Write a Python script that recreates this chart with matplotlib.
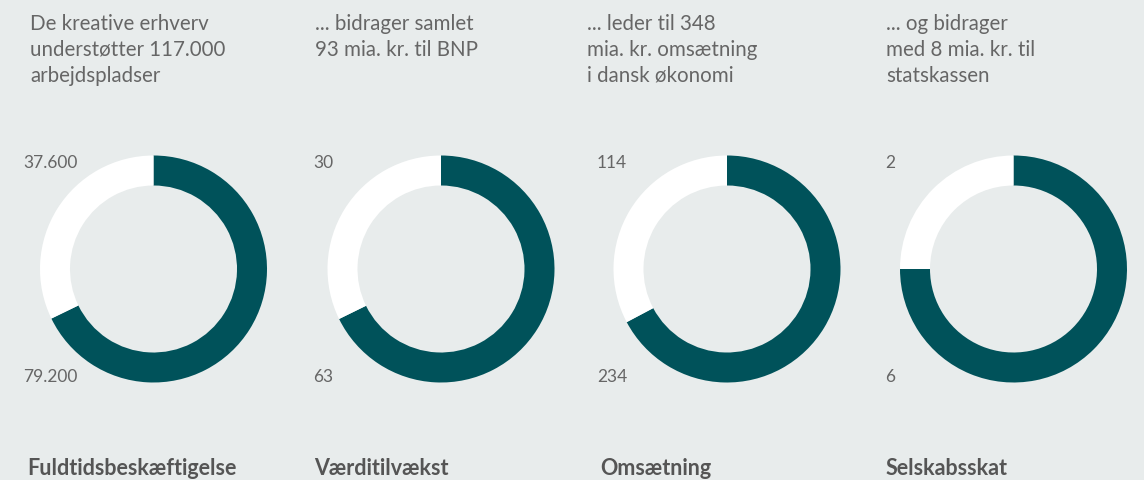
import matplotlib.pyplot as plt

# data
titles = ["De kreative erhverv\nunderstøtter 117.000\narbejdspladser",
          "... bidrager samlet\n93 mia. kr. til BNP",
          "... leder til 348\nmia. kr. omsætning\ni dansk økonomi",
          "... og bidrager\nmed 8 mia. kr. til\nstatskassen"]
labels = ["Fuldtidsbeskæftigelse", "Værditilvækst", "Omsætning", "Selskabsskat"]
creative = [79200, 63, 234, 6]
rest = [37600, 30, 114, 2]
creative_txt = ["79.200", "63", "234", "6"]
rest_txt = ["37.600", "30", "114", "2"]

bg = "#e8ecec"
dark = "#00525a"
grey = "#666666"

W, H = 1144, 481
fig = plt.figure(figsize=(W / 100, H / 100), dpi=100, facecolor=bg)
ax = fig.add_axes([0, 0, 1, 1])
ax.set_facecolor(bg)
ax.axis("off")

centers_x = [153.5, 441, 727, 1013.5]
title_x = [30, 315, 587, 886]
value_x = [23, 313, 597, 885]
label_x = [27, 314, 600, 886]
cy = H - 270
r = 113.5

for i in range(4):
    ax.pie([creative[i], rest[i]], colors=[dark, "white"], startangle=90,
           counterclock=False, center=(centers_x[i], cy), radius=r,
           wedgeprops=dict(width=30, linewidth=0))
    ax.text(title_x[i], H - 14, titles[i], family="Lato", fontsize=14.8,
            color=grey, va="top", ha="left", linespacing=1.37)
    ax.text(value_x[i], H - 163, rest_txt[i], family="Lato", fontsize=12.5,
            color=grey, va="center", ha="left")
    ax.text(value_x[i], H - 377, creative_txt[i], family="Lato", fontsize=12.5,
            color=grey, va="center", ha="left")
    ax.text(label_x[i], H - 469, labels[i], family="Lato", fontsize=15.5,
            fontweight="bold", color="#555555", va="center", ha="left")

ax.set_xlim(0, W)
ax.set_ylim(0, H)
ax.set_aspect("auto")
fig.savefig("out.png", dpi=100, facecolor=bg)
